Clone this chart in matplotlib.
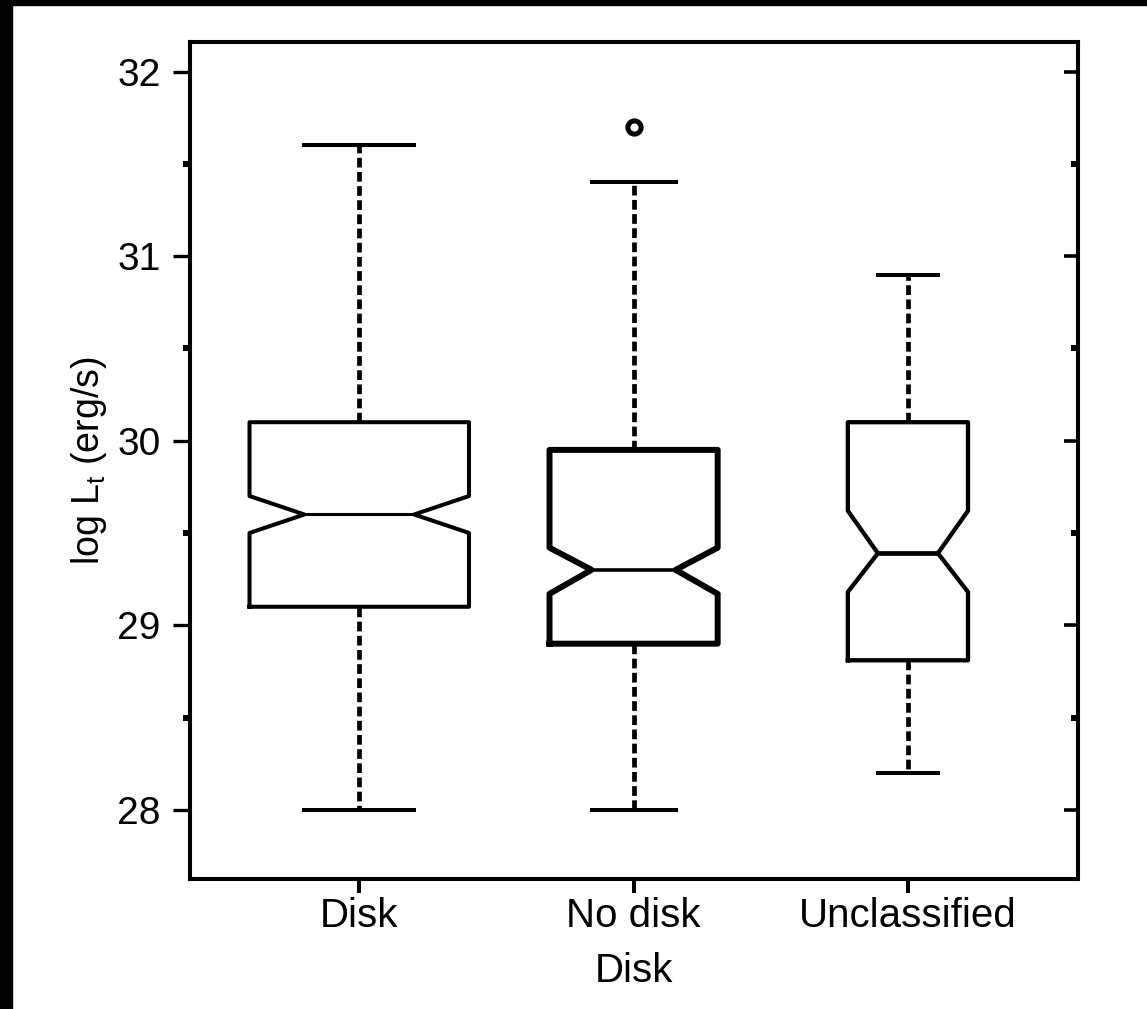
import matplotlib
matplotlib.use("Agg")
import matplotlib.pyplot as plt
from matplotlib.patches import Rectangle
from matplotlib.ticker import MultipleLocator

plt.rcParams['font.family'] = ['Liberation Sans', 'DejaVu Sans']
plt.rcParams['lines.scale_dashes'] = False

categories = ["Disk", "No disk", "Unclassified"]
medians = [29.60, 29.30, 29.39]
q1 = [29.10, 28.90, 28.81]
q3 = [30.10, 29.95, 30.10]
whis_lo = [28.00, 28.00, 28.20]
whis_hi = [31.60, 31.40, 30.90]
ci_lo = [29.50, 29.17, 29.18]
ci_hi = [29.70, 29.42, 29.62]
outliers = [[], [31.70], []]
box_widths = [0.80, 0.613, 0.438]
ylabel = "log L$_\\mathregular{t}$ (erg/s)"
xlabel = "Disk"

W, H = 1147, 1009
fig = plt.figure(figsize=(W / 100, H / 100), dpi=100)
ax = fig.add_axes([190 / W, 130 / H, 888 / W, 837 / H])

stats = []
for i, c in enumerate(categories):
    stats.append(dict(label=c, med=medians[i], q1=q1[i], q3=q3[i],
                      whislo=whis_lo[i], whishi=whis_hi[i],
                      cilo=ci_lo[i], cihi=ci_hi[i], fliers=outliers[i]))

positions = [1, 2, 3]
res = ax.bxp(stats, positions=positions, widths=box_widths, shownotches=True,
             showfliers=True, patch_artist=False,
             boxprops=dict(color='black', linewidth=2.9),
             medianprops=dict(color='black', linewidth=2.2),
             whiskerprops=dict(color='black', linewidth=3.4, linestyle=(0, (7, 3.2))),
             capprops=dict(color='black', linewidth=2.9),
             flierprops=dict(marker='o', markersize=9.5, markerfacecolor='white',
                             markeredgecolor='black', markeredgewidth=3.6))

box_lw = [2.9, 4.3, 3.1]
med_lw = [2.2, 2.6, 3.4]
for i in range(3):
    res['boxes'][i].set_linewidth(box_lw[i])
    res['medians'][i].set_linewidth(med_lw[i])

ax.set_xlim(0.383, 3.62)
ax.set_ylim(27.625, 32.16)
ax.set_xticks(positions)
ax.set_xticklabels(categories)
ax.yaxis.set_major_locator(MultipleLocator(1))
ax.yaxis.set_minor_locator(MultipleLocator(0.5))

for s in ax.spines.values():
    s.set_linewidth(2.9)

ax.tick_params(axis='y', which='major', direction='out', length=12, width=2.4,
               labelsize=28, pad=9, left=True, right=False)
ax.tick_params(axis='y', which='minor', direction='out', length=5, width=4.3,
               left=True, right=False)
ax.tick_params(axis='x', which='major', direction='out', length=10, width=2.9,
               labelsize=29, pad=3, top=False)

ax2 = ax.twinx()
ax2.set_ylim(ax.get_ylim())
ax2.yaxis.set_major_locator(MultipleLocator(1))
ax2.yaxis.set_minor_locator(MultipleLocator(0.5))
ax2.tick_params(axis='y', which='major', direction='in', length=10, width=2.6,
                labelright=False, right=True)
ax2.tick_params(axis='y', which='minor', direction='in', length=5, width=4.3,
                right=True)
for s in ax2.spines.values():
    s.set_linewidth(2.9)

ax.set_ylabel(ylabel, fontsize=27, labelpad=6)
ax.set_xlabel(xlabel, fontsize=29, labelpad=12)

fig.add_artist(Rectangle((0, 1 - 5 / H), 1, 5 / H, transform=fig.transFigure,
                         color='black', zorder=10))
fig.add_artist(Rectangle((0, 0), 12 / W, 1, transform=fig.transFigure,
                         color='black', zorder=10))

fig.savefig("out.png", dpi=100, facecolor='white')
